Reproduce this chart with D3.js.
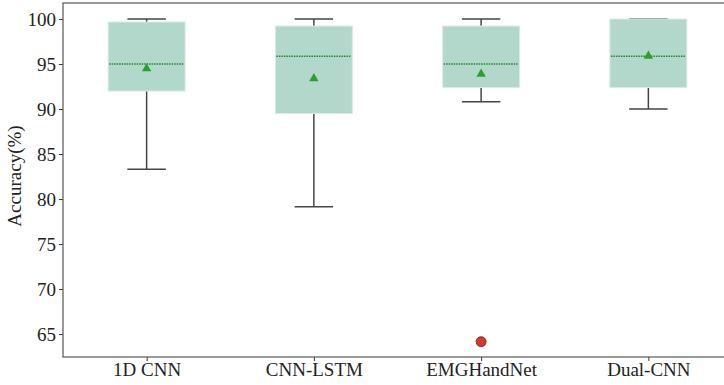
<!DOCTYPE html>
<html>
<head>
<meta charset="utf-8">
<script src="https://cdn.jsdelivr.net/npm/d3@7"></script>
<style>
  body { margin: 0; background: #fff; }
  svg { display: block; }
</style>
</head>
<body>
<div id="chart"></div>
<script>
// models on the x axis
const models = ["1D CNN", "CNN-LSTM", "EMGHandNet", "Dual-CNN"];
// box stats (accuracy %)
const whiskerLow = [83.3, 79.15, 90.8, 90.0];
const q1 = [92.0, 89.5, 92.4, 92.4];
const medians = [95.0, 95.85, 95.0, 95.85];
const q3 = [99.67, 99.22, 99.22, 100.0];
const whiskerHigh = [100.0, 100.0, 100.0, 100.0];
const means = [94.6, 93.5, 94.0, 96.0];
// outliers: [model index, value]
const outliers = [[2, 64.15]];
const yTicks = [65, 70, 75, 80, 85, 90, 95, 100];

const width = 724;
const height = 385;
const margin = {top: 3, left: 63, bottom: 28};
// the right edge of the axes runs off the picture
const plotRight = 732;
const serif = "'Liberation Serif', 'Times New Roman', serif";

const svg = d3.select("#chart").append("svg")
  .attr("width", width)
  .attr("height", height);

const x = d3.scaleLinear()
  .domain([-0.5, models.length - 0.5])
  .range([margin.left, plotRight]);

const y = d3.scaleLinear()
  .domain([62.45, 101.78])
  .range([height - margin.bottom, margin.top]);

const boxW = 0.46;   // in category units
const capW = 0.23;

const boxes = models.map((m, i) => ({
  name: m, i: i,
  lo: whiskerLow[i], q1: q1[i], med: medians[i], q3: q3[i], hi: whiskerHigh[i], mean: means[i]
}));

const g = svg.append("g");

// whiskers
g.selectAll("line.wlow").data(boxes).enter().append("line")
  .attr("x1", d => x(d.i)).attr("x2", d => x(d.i))
  .attr("y1", d => y(d.q1)).attr("y2", d => y(d.lo))
  .attr("stroke", "#444").attr("stroke-width", 1.5);
g.selectAll("line.whigh").data(boxes).enter().append("line")
  .attr("x1", d => x(d.i)).attr("x2", d => x(d.i))
  .attr("y1", d => y(d.q3)).attr("y2", d => y(d.hi))
  .attr("stroke", "#444").attr("stroke-width", 1.5);
// caps
g.selectAll("line.clow").data(boxes).enter().append("line")
  .attr("x1", d => x(d.i - capW / 2)).attr("x2", d => x(d.i + capW / 2))
  .attr("y1", d => y(d.lo)).attr("y2", d => y(d.lo))
  .attr("stroke", "#444").attr("stroke-width", 1.5);
g.selectAll("line.chigh").data(boxes).enter().append("line")
  .attr("x1", d => x(d.i - capW / 2)).attr("x2", d => x(d.i + capW / 2))
  .attr("y1", d => y(d.hi)).attr("y2", d => y(d.hi))
  .attr("stroke", "#444").attr("stroke-width", 1.5);

// boxes
g.selectAll("rect.box").data(boxes).enter().append("rect")
  .attr("x", d => x(d.i - boxW / 2))
  .attr("width", d => x(d.i + boxW / 2) - x(d.i - boxW / 2))
  .attr("y", d => y(d.q3))
  .attr("height", d => y(d.q1) - y(d.q3))
  .attr("fill", "#b2d7cb")
  .attr("stroke", "#d6ece5")
  .attr("stroke-width", 1);

// median, dotted green
g.selectAll("line.med").data(boxes).enter().append("line")
  .attr("x1", d => x(d.i - boxW / 2) + 1).attr("x2", d => x(d.i + boxW / 2) - 1)
  .attr("y1", d => y(d.med)).attr("y2", d => y(d.med))
  .attr("stroke", "#1f8a1f").attr("stroke-width", 1.5)
  .attr("stroke-dasharray", "1.5,1");

// mean triangles (nudged so the bounding box centre sits on the value)
g.selectAll("path.mean").data(boxes).enter().append("path")
  .attr("transform", d => `translate(${x(d.i)},${y(d.mean) + 1})`)
  .attr("d", d3.symbol(d3.symbolTriangle, 38))
  .attr("fill", "#2ca02c");

// outliers
g.selectAll("circle.out").data(outliers).enter().append("circle")
  .attr("cx", d => x(d[0])).attr("cy", d => y(d[1]))
  .attr("r", 5)
  .attr("fill", "#e0332b")
  .attr("stroke", "#333")
  .attr("stroke-width", 0.8);

// axes
const yAxis = svg.append("g")
  .attr("transform", `translate(${margin.left},0)`)
  .call(d3.axisLeft(y).tickValues(yTicks).tickSize(4).tickPadding(3));
const xAxis = svg.append("g")
  .attr("transform", `translate(0,${height - margin.bottom})`)
  .call(d3.axisBottom(x).tickValues(d3.range(models.length))
    .tickFormat(i => models[i]).tickSize(4).tickPadding(2));
[yAxis, xAxis].forEach(a => {
  a.attr("font-family", null).attr("font-size", null);
  a.select(".domain").remove();
  a.selectAll(".tick line").attr("stroke", "#333");
  a.selectAll(".tick text")
    .attr("font-family", serif)
    .attr("font-size", 19)
    .attr("fill", "#222");
});

// frame
svg.append("rect")
  .attr("x", margin.left).attr("y", margin.top)
  .attr("width", plotRight - margin.left)
  .attr("height", height - margin.bottom - margin.top)
  .attr("fill", "none")
  .attr("stroke", "#555")
  .attr("stroke-width", 1.2);

// y label
svg.append("text")
  .attr("transform", "translate(21,176) rotate(-90)")
  .attr("text-anchor", "middle")
  .attr("font-family", serif)
  .attr("font-size", 19)
  .attr("fill", "#222")
  .text("Accuracy(%)");
</script>
</body>
</html>
